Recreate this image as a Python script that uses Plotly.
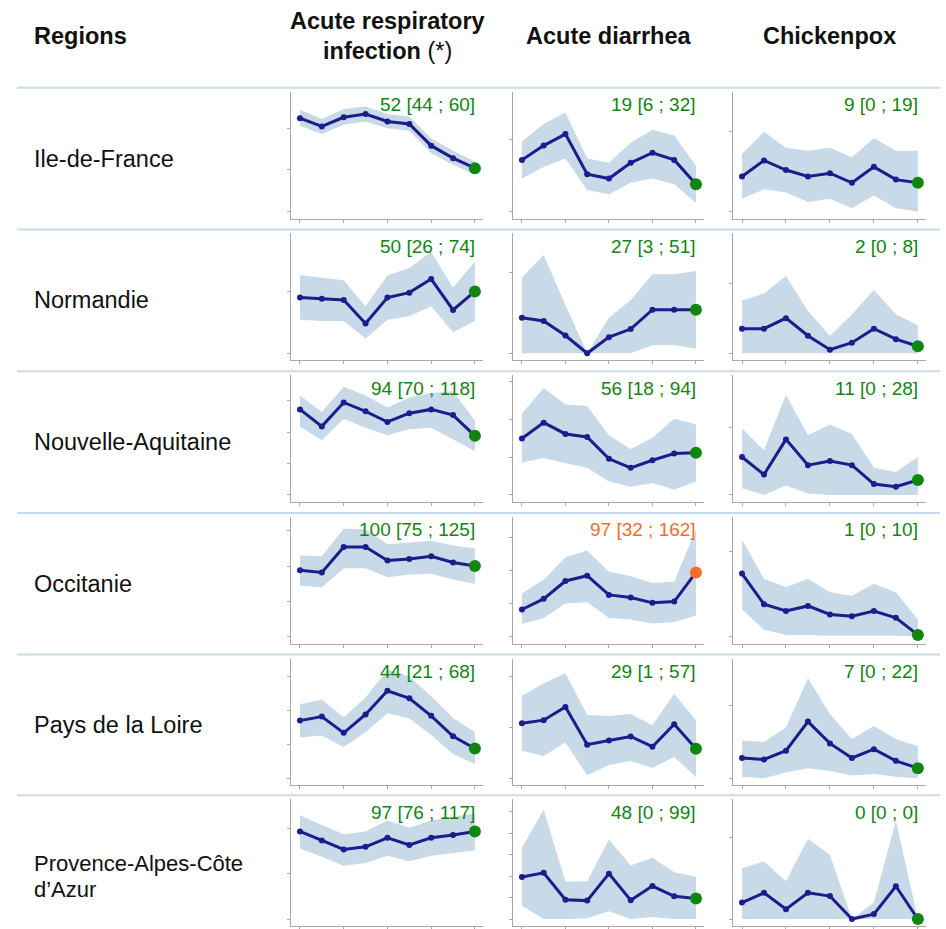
import plotly.graph_objects as go

# ---------------- data ----------------
regions = ["Ile-de-France", "Normandie", "Nouvelle-Aquitaine", "Occitanie",
           "Pays de la Loire", "Provence-Alpes-Côte d’Azur"]
diseases = ["Acute respiratory infection (*)", "Acute diarrhea", "Chickenpox"]
header_lines = [["<b>Acute respiratory</b>", "<b>infection</b> (*)"],
                ["<b>Acute diarrhea</b>"],
                ["<b>Chickenpox</b>"]]
weeks = [0, 1, 2, 3, 4, 5, 6, 7, 8]

ari_mid = [
    [112, 102, 113, 117, 108, 105, 79, 64, 52],
    [45, 44, 43, 24, 45, 49, 60, 35, 50],
    [136, 109, 147, 133, 116, 130, 136, 127, 94],
    [94, 91, 127, 127, 108, 110, 114, 105, 100],
    [85, 91, 67, 94, 129, 118, 92, 62, 44],
    [97, 87, 77, 80, 90, 82, 90, 93, 97],
]
ari_lo = [
    [103, 93, 104, 108, 100, 97, 70, 56, 44],
    [27, 26, 26, 12, 27, 30, 38, 17, 26],
    [109, 87, 121, 107, 95, 105, 107, 88, 70],
    [72, 70, 97, 97, 84, 88, 89, 81, 75],
    [60, 63, 46, 68, 96, 88, 64, 36, 21],
    [78, 69, 59, 62, 70, 64, 70, 73, 76],
]
ari_hi = [
    [122, 111, 123, 126, 117, 114, 88, 73, 60],
    [63, 61, 59, 38, 63, 69, 82, 53, 74],
    [158, 132, 172, 158, 139, 155, 162, 165, 118],
    [115, 114, 153, 152, 131, 133, 136, 129, 125],
    [109, 116, 90, 119, 160, 150, 121, 89, 68],
    [115, 104, 94, 97, 109, 101, 109, 113, 117],
]

diarrhea_mid = [
    [36, 46, 54, 26, 23, 34, 41, 36, 19],
    [22, 20, 11, 0, 10, 15, 27, 27, 27],
    [75, 96, 81, 77, 48, 36, 46, 55, 56],
    [41, 57, 84, 92, 63, 59, 51, 53, 97],
    [54, 57, 70, 33, 37, 41, 31, 53, 29],
    [98, 108, 45, 43, 106, 44, 77, 53, 48],
]
diarrhea_lo = [
    [23, 31, 37, 15, 12, 20, 23, 19, 6],
    [0, 0, 0, 0, 0, 0, 5, 5, 3],
    [43, 49, 42, 36, 18, 11, 16, 7, 18],
    [19, 28, 50, 52, 28, 26, 20, 22, 32],
    [27, 22, 35, 3, 13, 17, 10, 21, 1],
    [31, 0, 0, 2, 18, 0, 5, 0, 0],
]
diarrhea_hi = [
    [49, 61, 69, 37, 34, 48, 57, 53, 32],
    [47, 61, 30, 0, 22, 33, 49, 49, 51],
    [108, 142, 120, 118, 79, 61, 76, 101, 94],
    [65, 86, 120, 130, 98, 91, 81, 83, 162],
    [81, 93, 103, 62, 61, 63, 52, 83, 57],
    [166, 256, 87, 88, 186, 125, 143, 109, 99],
]

chickenpox_mid = [
    [11, 16, 13, 11, 12, 9, 14, 10, 9],
    [7, 7, 10, 5, 1, 3, 7, 4, 2],
    [28, 15, 41, 22, 25, 22, 8, 6, 11],
    [37, 19, 15, 18, 13, 12, 15, 11, 1],
    [14, 13, 19, 39, 24, 14, 20, 12, 7],
    [5, 8, 3, 8, 7, 0, 1.5, 10, 0],
]
chickenpox_lo = [
    [4, 7, 6, 3, 4, 1, 5, 1, 0],
    [0, 0, 0, 0, 0, 0, 0, 0, 0],
    [5, 0, 7, 1, 0, 0, 0, 0, 0],
    [16, 4, 1, 1, 0.5, 0.5, 0.5, 0.5, 0],
    [1, 0, 4, 7, 5, 2, 3, 1, 0],
    [0, 0, 0, 0, 0, 0, 0, 0, 0],
]
chickenpox_hi = [
    [18, 25, 20, 19, 20, 17, 23, 19, 19],
    [15, 17, 22, 12, 5, 11, 18, 11, 8],
    [49, 33, 74, 44, 52, 45, 20, 17, 28],
    [57, 34, 29, 34, 26, 24, 31, 26, 10],
    [26, 25, 35, 69, 44, 27, 36, 27, 22],
    [15.5, 17.5, 11.5, 24.5, 19.5, 0, 5, 30, 0],
]

# alert status of the latest week (region x disease)
status = [
    ["normal", "normal", "normal"],
    ["normal", "normal", "normal"],
    ["normal", "normal", "normal"],
    ["normal", "alert", "normal"],
    ["normal", "normal", "normal"],
    ["normal", "normal", "normal"],
]

# ---------------- layout settings ----------------
y_axis_max = [
    [143.6, 83.5, 37.5],
    [96.8, 74.3, 34.1],
    [190.4, 159, 88.4],
    [169.7, 180.8, 70.2],
    [176.4, 117.4, 82.3],
    [132.6, 279.7, 36.5],
]
y_dtick = [
    [50, 50, 25],
    [50, 50, 20],
    [50, 50, 50],
    [50, 50, 50],
    [50, 50, 50],
    [50, 50, 25],
]

W, H = 946, 929
row_seps = [88, 230, 372, 514, 656, 797]
col_px = [(291, 483), (513, 704), (733, 926)]
FONT = "Liberation Sans, Arial, Helvetica, sans-serif"
NAVY = "#1c1c8c"
BAND = "#c8d9e8"
GREEN = "#0f870f"
ORANGE = "#f96b2a"
SEP = "#c9dbee"
AXIS = "#a8a8a8"

def py(px):
    return 1 - px / H

series = [(ari_mid, ari_lo, ari_hi),
          (diarrhea_mid, diarrhea_lo, diarrhea_hi),
          (chickenpox_mid, chickenpox_lo, chickenpox_hi)]

fig = go.Figure()
layout = dict(width=W, height=H, margin=dict(l=0, r=0, t=0, b=0),
              paper_bgcolor="white", plot_bgcolor="white",
              showlegend=False, hovermode=False, font=dict(family=FONT))
annotations = []
shapes = []

for r, region in enumerate(regions):
    s = row_seps[r]
    for c in range(3):
        idx = r * 3 + c + 1
        xa = "x" if idx == 1 else f"x{idx}"
        ya = "y" if idx == 1 else f"y{idx}"
        mid, lo, hi = series[c][0][r], series[c][1][r], series[c][2][r]
        col = ORANGE if status[r][c] == "alert" else GREEN
        fig.add_trace(go.Scatter(x=weeks, y=lo, mode="lines", line=dict(width=0),
                                 xaxis=xa, yaxis=ya, hoverinfo="skip"))
        fig.add_trace(go.Scatter(x=weeks, y=hi, mode="lines", line=dict(width=0),
                                 fill="tonexty", fillcolor=BAND,
                                 xaxis=xa, yaxis=ya, hoverinfo="skip"))
        fig.add_trace(go.Scatter(
            x=weeks, y=mid, mode="lines+markers",
            line=dict(color=NAVY, width=3),
            marker=dict(size=6, color=NAVY, line=dict(width=0)),
            cliponaxis=False, xaxis=xa, yaxis=ya, hoverinfo="skip"))
        fig.add_trace(go.Scatter(
            x=weeks[-1:], y=mid[-1:], mode="markers",
            marker=dict(size=12, color=col, opacity=1, line=dict(width=0)),
            cliponaxis=False, xaxis=xa, yaxis=ya, hoverinfo="skip"))
        T = y_axis_max[r][c]
        x0, x1 = col_px[c]
        layout["xaxis" if idx == 1 else f"xaxis{idx}"] = dict(
            domain=[x0 / W, x1 / W], range=[-0.41, 8.37], anchor=ya,
            showgrid=False, zeroline=False, showline=True, linecolor=AXIS,
            linewidth=1, ticks="outside", ticklen=3, tickcolor=AXIS,
            tickvals=[0, 2, 4, 6, 8], showticklabels=False, fixedrange=True)
        layout["yaxis" if idx == 1 else f"yaxis{idx}"] = dict(
            domain=[py(s + 131), py(s + 4)], range=[-T * 7 / 120, T], anchor=xa,
            showgrid=False, zeroline=False, showline=True, linecolor=AXIS,
            linewidth=1, ticks="outside", ticklen=3, tickcolor=AXIS,
            tick0=0, dtick=y_dtick[r][c], showticklabels=False, fixedrange=True)
        label = f"{mid[-1]:g} [{lo[-1]:g} ; {hi[-1]:g}]"
        annotations.append(dict(x=weeks[-1], xref=xa, y=py(s + 17), yref="paper",
                                text=label, showarrow=False, xanchor="right",
                                yanchor="middle", xshift=2,
                                font=dict(size=19, color=col, family=FONT)))
    # region label
    if len(region) > 20:
        cut = region.rfind(" ")
        lines = [region[:cut], region[cut + 1:]]
    else:
        lines = [region]
    ys = [s + 71] if len(lines) == 1 else [s + 68, s + 94]
    fsize = 23.5 if len(lines) == 1 else 22
    for txt, yy in zip(lines, ys):
        annotations.append(dict(x=32 / W, xref="paper", y=py(yy), yref="paper",
                                text=txt, showarrow=False, xanchor="left",
                                yanchor="middle",
                                font=dict(size=fsize, color="#111111", family=FONT)))
    shapes.append(dict(type="line", xref="paper", yref="paper",
                       x0=17 / W, x1=940 / W, y0=py(s), y1=py(s),
                       line=dict(color=SEP, width=2)))

# headers
annotations.append(dict(x=32 / W, xref="paper", y=py(36), yref="paper",
                        text="<b>Regions</b>", showarrow=False, xanchor="left",
                        yanchor="middle", font=dict(size=23.5, color="#111111", family=FONT)))
for c, lines in enumerate(header_lines):
    x0, x1 = col_px[c]
    cx = (x0 + x1) / 2 / W
    ys = [36] if len(lines) == 1 else [21, 51]
    for txt, yy in zip(lines, ys):
        annotations.append(dict(x=cx, xref="paper", y=py(yy), yref="paper",
                                text=txt, showarrow=False, xanchor="center",
                                yanchor="middle",
                                font=dict(size=23.5, color="#111111", family=FONT)))

layout["annotations"] = annotations
layout["shapes"] = shapes
fig.update_layout(**layout)
fig.write_html("out.html", config={"displayModeBar": False},
               post_script="document.body.style.margin='0';document.body.style.overflow='hidden';")
